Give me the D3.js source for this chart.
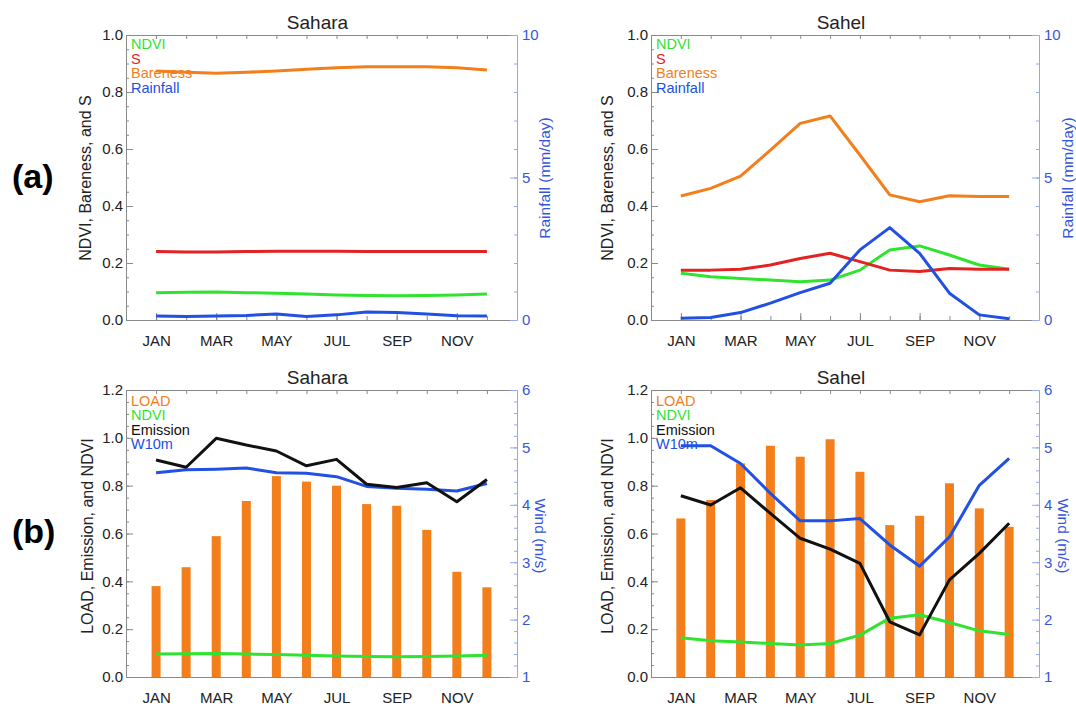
<!DOCTYPE html>
<html>
<head>
<meta charset="utf-8">
<script src="https://cdn.jsdelivr.net/npm/d3@7"></script>
<style>
  html, body { margin: 0; padding: 0; background: #ffffff; }
  svg { display: block; }
  text { font-family: "Liberation Sans", Arial, Helvetica, sans-serif; }
</style>
</head>
<body>
<script>
// ---------------- DATA ----------------
const monthNames = ["JAN","FEB","MAR","APR","MAY","JUN","JUL","AUG","SEP","OCT","NOV","DEC"];
const xTickLabels = ["JAN","MAR","MAY","JUL","SEP","NOV"];

// Sahara
const saharaNDVI     = [0.096,0.097,0.098,0.096,0.094,0.091,0.088,0.086,0.085,0.086,0.088,0.091];
const saharaS        = [0.240,0.239,0.239,0.240,0.241,0.241,0.241,0.240,0.240,0.240,0.240,0.240];
const saharaBareness = [0.874,0.869,0.866,0.869,0.874,0.880,0.885,0.889,0.889,0.889,0.885,0.877];
const saharaRainfall = [0.14,0.12,0.14,0.16,0.21,0.12,0.18,0.28,0.26,0.21,0.15,0.14];
const saharaLoad     = [0.380,0.459,0.589,0.736,0.840,0.817,0.800,0.723,0.716,0.615,0.440,0.375];
const saharaEmission = [0.907,0.877,0.998,0.970,0.945,0.883,0.910,0.806,0.792,0.812,0.733,0.826];
const saharaW10m     = [4.56,4.61,4.62,4.64,4.56,4.55,4.49,4.32,4.29,4.27,4.24,4.37];

// Sahel
const sahelNDVI     = [0.164,0.152,0.146,0.140,0.134,0.140,0.175,0.246,0.260,0.228,0.193,0.178];
const sahelS        = [0.175,0.175,0.178,0.193,0.216,0.234,0.205,0.175,0.170,0.181,0.178,0.178];
const sahelBareness = [0.435,0.462,0.505,0.596,0.690,0.716,0.579,0.439,0.415,0.436,0.433,0.433];
const sahelRainfall = [0.06,0.09,0.26,0.59,0.96,1.29,2.46,3.24,2.34,0.94,0.18,0.04];
const sahelLoad     = [0.663,0.740,0.893,0.967,0.921,0.994,0.858,0.635,0.674,0.810,0.705,0.628];
const sahelEmission = [0.758,0.719,0.791,0.684,0.580,0.535,0.475,0.231,0.176,0.406,0.517,0.643];
const sahelW10m     = [5.03,5.03,4.72,4.20,3.72,3.72,3.76,3.30,2.93,3.44,4.34,4.81];

// ---------------- STYLE ----------------
const C = {
  green: "#2fe32f", red: "#e32222", orange: "#f27f1c", blue: "#2150e3", black: "#111111",
  frame: "#8a8a8a", rAxis: "#93a8ee", rText: "#3556dc", text: "#222222"
};

const W = 1076, H = 709;
const svg = d3.select("body").append("svg").attr("width", W).attr("height", H);
svg.append("rect").attr("width", W).attr("height", H).attr("fill", "#fff");

function drawPanel(o) {
  const g = svg.append("g");
  const x = d3.scaleLinear().domain([0, 13]).range([o.x0, o.x1]);
  const yl = d3.scaleLinear().domain(o.lDomain).range([o.yB, o.yT]);
  const yr = d3.scaleLinear().domain(o.rDomain).range([o.yB, o.yT]);
  const monthPos = i => x(i + 1);
  const labelMonth = m => monthNames.indexOf(m) + 1;

  const axG = g.append("g");
  // bottom
  axG.append("g").attr("transform", `translate(0,${o.yB})`)
    .call(d3.axisBottom(x).tickValues(d3.range(1, 13)).tickSize(-4).tickSizeOuter(0).tickFormat(""))
    .call(s => { s.selectAll("line,path").attr("stroke", C.frame); });
  axG.append("g").attr("transform", `translate(0,${o.yB})`)
    .call(d3.axisBottom(x).tickValues(xTickLabels.map(labelMonth)).tickSize(-7).tickSizeOuter(0)
      .tickPadding(15).tickFormat(d => monthNames[d - 1]))
    .call(s => {
      s.select(".domain").remove();
      s.selectAll("line").attr("stroke", C.frame);
      s.selectAll("text").attr("font-size", 15).attr("fill", C.text)
        .attr("font-family", '"Liberation Sans", Arial, sans-serif');
    });
  // top
  axG.append("g").attr("transform", `translate(0,${o.yT})`)
    .call(d3.axisTop(x).tickValues(d3.range(1, 13)).tickSize(-4).tickSizeOuter(0).tickFormat(""))
    .call(s => { s.selectAll("line,path").attr("stroke", C.frame); });
  // left
  axG.append("g").attr("transform", `translate(${o.x0},0)`)
    .call(d3.axisLeft(yl).tickValues(o.lMinor).tickSize(-3).tickSizeOuter(0).tickFormat(""))
    .call(s => { s.selectAll("line,path").attr("stroke", C.frame); });
  axG.append("g").attr("transform", `translate(${o.x0},0)`)
    .call(d3.axisLeft(yl).tickValues(o.lMajor).tickSize(-7).tickSizeOuter(0).tickPadding(3)
      .tickFormat(d3.format(".1f")))
    .call(s => {
      s.select(".domain").remove();
      s.selectAll("line").attr("stroke", C.frame);
      s.selectAll("text").attr("font-size", 15).attr("fill", C.text)
        .attr("font-family", '"Liberation Sans", Arial, sans-serif');
    });
  // right
  axG.append("g").attr("transform", `translate(${o.x1},0)`)
    .call(d3.axisRight(yr).tickValues(o.rMinor).tickSize(-3).tickSizeOuter(0).tickFormat(""))
    .call(s => { s.selectAll("line,path").attr("stroke", C.rAxis); });
  axG.append("g").attr("transform", `translate(${o.x1},0)`)
    .call(d3.axisRight(yr).tickValues(o.rMajor).tickSize(-7).tickSizeOuter(0).tickPadding(5)
      .tickFormat(d3.format("d")))
    .call(s => {
      s.select(".domain").remove();
      s.selectAll("line").attr("stroke", C.rAxis);
      s.selectAll("text").attr("font-size", 15).attr("fill", C.rText)
        .attr("font-family", '"Liberation Sans", Arial, sans-serif');
    });

  // title
  g.append("text").attr("x", (o.x0 + o.x1) / 2 - 4).attr("y", o.yT - 6)
    .attr("text-anchor", "middle").attr("font-size", 19).attr("fill", C.text).text(o.title);

  // axis titles
  g.append("text").attr("transform", `translate(${o.lTitleX},${o.titleCY}) rotate(-90)`)
    .attr("text-anchor", "middle").attr("dy", "0.35em").attr("font-size", 16)
    .attr("fill", C.text).text(o.lTitle);
  g.append("text").attr("transform", `translate(${o.rTitleX},${o.titleCY}) rotate(${o.rRot})`)
    .attr("text-anchor", "middle").attr("dy", "0.35em").attr("font-size", 15.5)
    .attr("fill", C.rText).text(o.rTitle);

  // legend
  o.legend.forEach((d, i) => {
    g.append("text").attr("x", o.x0 + 5).attr("y", o.legY + i * o.legStep)
      .attr("dy", "0.36em").attr("font-size", 14.5).attr("fill", d[1]).text(d[0]);
  });

  // bars
  if (o.bars) {
    g.append("g").selectAll("rect").data(o.bars.values).join("rect")
      .attr("x", (d, i) => monthPos(i) - 4.5).attr("width", 9)
      .attr("y", d => yl(d)).attr("height", d => yl(o.lDomain[0]) - yl(d))
      .attr("fill", o.bars.color);
  }

  // lines
  o.lines.forEach(s => {
    const sc = s.axis === "r" ? yr : yl;
    const line = d3.line().x((d, i) => monthPos(i)).y(d => sc(d));
    g.append("path").datum(s.values).attr("d", line)
      .attr("fill", "none").attr("stroke", s.color).attr("stroke-width", 3)
      .attr("stroke-linejoin", "round").attr("stroke-linecap", "butt");
  });
}

const aCommon = {
  yT: 35, yB: 320, lDomain: [0, 1], rDomain: [0, 10],
  lMajor: [0, 0.2, 0.4, 0.6, 0.8, 1.0], lMinor: d3.range(0, 1.0001, 0.05),
  rMajor: [0, 5, 10], rMinor: d3.range(0, 10.001, 1),
  lTitle: "NDVI, Bareness, and S", rTitle: "Rainfall (mm/day)", rRot: -90, titleCY: 178,
  legY: 44, legStep: 14.5,
  legend: [["NDVI", C.green], ["S", C.red], ["Bareness", C.orange], ["Rainfall", C.blue]]
};
const bCommon = {
  yT: 390, yB: 677, lDomain: [0, 1.2], rDomain: [1, 6],
  lMajor: [0, 0.2, 0.4, 0.6, 0.8, 1.0, 1.2], lMinor: d3.range(0, 1.2001, 0.05),
  rMajor: [1, 2, 3, 4, 5, 6], rMinor: d3.range(1, 6.001, 0.2),
  lTitle: "LOAD, Emission, and NDVI", rTitle: "Wind (m/s)", rRot: 90, titleCY: 536,
  legY: 401, legStep: 14.2,
  legend: [["LOAD", C.orange], ["NDVI", C.green], ["Emission", C.black], ["W10m", C.blue]]
};

drawPanel(Object.assign({}, aCommon, {
  x0: 126, x1: 517, title: "Sahara", lTitleX: 85, rTitleX: 545,
  lines: [
    { values: saharaNDVI, color: C.green },
    { values: saharaS, color: C.red },
    { values: saharaBareness, color: C.orange },
    { values: saharaRainfall, color: C.blue, axis: "r" }
  ]
}));
drawPanel(Object.assign({}, aCommon, {
  x0: 651, x1: 1039, title: "Sahel", lTitleX: 607, rTitleX: 1068,
  lines: [
    { values: sahelNDVI, color: C.green },
    { values: sahelS, color: C.red },
    { values: sahelBareness, color: C.orange },
    { values: sahelRainfall, color: C.blue, axis: "r" }
  ]
}));
drawPanel(Object.assign({}, bCommon, {
  x0: 126, x1: 517, title: "Sahara", lTitleX: 87, rTitleX: 540,
  bars: { values: saharaLoad, color: C.orange },
  lines: [
    { values: saharaNDVI, color: C.green },
    { values: saharaW10m, color: C.blue, axis: "r" },
    { values: saharaEmission, color: C.black }
  ]
}));
drawPanel(Object.assign({}, bCommon, {
  x0: 651, x1: 1039, title: "Sahel", lTitleX: 607, rTitleX: 1063,
  bars: { values: sahelLoad, color: C.orange },
  lines: [
    { values: sahelNDVI, color: C.green },
    { values: sahelW10m, color: C.blue, axis: "r" },
    { values: sahelEmission, color: C.black }
  ]
}));

// panel letters
svg.append("text").attr("x", 12).attr("y", 188)
  .attr("font-family", '"Liberation Serif", "Times New Roman", serif')
  .attr("font-weight", "bold").attr("font-size", 34).attr("fill", "#000").text("(a)");
svg.append("text").attr("x", 12).attr("y", 543)
  .attr("font-family", '"Liberation Serif", "Times New Roman", serif')
  .attr("font-weight", "bold").attr("font-size", 34).attr("fill", "#000").text("(b)");
</script>
</body>
</html>
